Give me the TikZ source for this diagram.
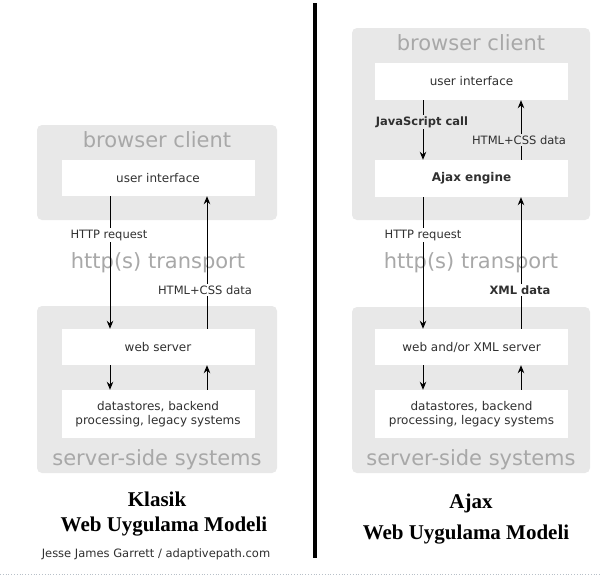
\documentclass[tikz,border=0pt]{standalone}
\usepackage{fontspec}
\setmainfont{DejaVu Sans}
\newfontfamily\titlefont{Liberation Serif}
\usetikzlibrary{arrows.meta}
\definecolor{boxgray}{HTML}{E8E8E8}
\definecolor{biggray}{HTML}{A8A8A8}
\definecolor{txtdark}{HTML}{303030}
\definecolor{dotgray}{HTML}{B8C0C8}
\begin{document}
\begin{tikzpicture}[x=1pt,y=-1pt,
  layerbox/.style={fill=boxgray, draw=none, rounded corners=5pt},
  whitebox/.style={fill=white, draw=none},
  bigtext/.style={text=biggray, font=\fontsize{21}{21}\selectfont, inner sep=0pt},
  boxtext/.style={text=txtdark, font=\fontsize{12}{14}\selectfont, align=center},
  lbl/.style={text=txtdark, font=\fontsize{11.5}{11.5}\selectfont, inner sep=1.5pt},
  arr/.style={-{Stealth[length=8pt,width=6.5pt]}, line width=1pt, black},
  title/.style={font=\titlefont\bfseries\fontsize{21}{21}\selectfont, text=black, inner sep=0pt},
  credit/.style={font=\fontsize{11.5}{11.5}\selectfont, text=txtdark, inner sep=0pt}
]
\useasboundingbox (0,0) rectangle (600,576);
\fill[white] (0,0) rectangle (600,576);

% ---------------- left: classic ----------------
\path[layerbox] (37,125) rectangle (277,220);
\node[bigtext] (Lbct) at (157,140) {browser client};
\node[whitebox, minimum width=193pt, minimum height=36pt, boxtext] (Lui) at (158,178) {user interface};

\node[bigtext] (Lht) at (158,263) {http(s) transport};

\path[layerbox] (37,306) rectangle (277,473);
\node[whitebox, minimum width=193pt, minimum height=36pt, boxtext] (Lws) at (158,347) {web server};
\node[whitebox, minimum width=193pt, minimum height=48pt, boxtext] (Lds) at (158,414) {datastores, backend\\processing, legacy systems};
\node[bigtext] (Lsst) at (157,460) {server-side systems};

\draw[arr] (Lui.south -| 110,0) -- (Lws.north -| 110,0);
\draw[arr] (Lws.north -| 207,0) -- (Lui.south -| 207,0);
\draw[arr] (Lws.south -| 110,0) -- (Lds.north -| 110,0);
\draw[arr] (Lds.north -| 207,0) -- (Lws.south -| 207,0);
\node[lbl, fill=white] (Lhr) at (109,235) {HTTP request};
\node[lbl, fill=white] (Lhc) at (205,290) {HTML+CSS data};

\node[title] (Lt1) at (157,499) {Klasik};
\node[title] (Lt2) at (164,527) {Web Uygulama Modeli};
\node[credit] (Lcr) at (156,554) {Jesse James Garrett / adaptivepath.com};

% ---------------- separator ----------------
\coordinate (septop) at (315,3);
\coordinate (sepbot) at (315,558);
\draw[line width=3.5pt, black] (septop) -- (sepbot);

% ---------------- right: ajax ----------------
\path[layerbox] (352,28) rectangle (590,220);
\node[bigtext] (Rbct) at (471,43) {browser client};
\node[whitebox, minimum width=193pt, minimum height=37pt, boxtext] (Rui) at (471.5,81.5) {user interface};
\node[whitebox, minimum width=193pt, minimum height=37pt, boxtext, font=\fontsize{12}{14}\selectfont\bfseries] (Raj) at (471.5,178.5) {Ajax engine};

\node[bigtext] (Rht) at (471,263) {http(s) transport};

\path[layerbox] (352,307) rectangle (590,473);
\node[whitebox, minimum width=193pt, minimum height=36pt, boxtext] (Rws) at (471.5,347) {web and/or XML server};
\node[whitebox, minimum width=193pt, minimum height=48pt, boxtext] (Rds) at (471.5,414) {datastores, backend\\processing, legacy systems};
\node[bigtext] (Rsst) at (471,460) {server-side systems};

\draw[arr] (Rui.south -| 423,0) -- (Raj.north -| 423,0);
\draw[arr] (Raj.north -| 521,0) -- (Rui.south -| 521,0);
\draw[arr] (Raj.south -| 423,0) -- (Rws.north -| 423,0);
\draw[arr] (Rws.north -| 521,0) -- (Raj.south -| 521,0);
\draw[arr] (Rws.south -| 423,0) -- (Rds.north -| 423,0);
\draw[arr] (Rds.north -| 521,0) -- (Rws.south -| 521,0);
\node[lbl, fill=boxgray, font=\fontsize{11.5}{11.5}\selectfont\bfseries] (Rjs) at (422,122) {JavaScript call};
\node[lbl, fill=boxgray] (Rhc) at (519,140) {HTML+CSS data};
\node[lbl, fill=white] (Rhr) at (423,235) {HTTP request};
\node[lbl, fill=white, font=\fontsize{11.5}{11.5}\selectfont\bfseries] (Rxml) at (520,290) {XML data};

\node[title] (Rt1) at (471,503) {Ajax};
\node[title] (Rt2) at (466,535) {Web Uygulama Modeli};

% ---------------- bottom dotted rule ----------------
\coordinate (dl) at (0,574);
\coordinate (dr) at (600,574);
\draw[dotgray, dotted, line width=0.8pt] (dl) -- (dr);
\end{tikzpicture}
\end{document}
